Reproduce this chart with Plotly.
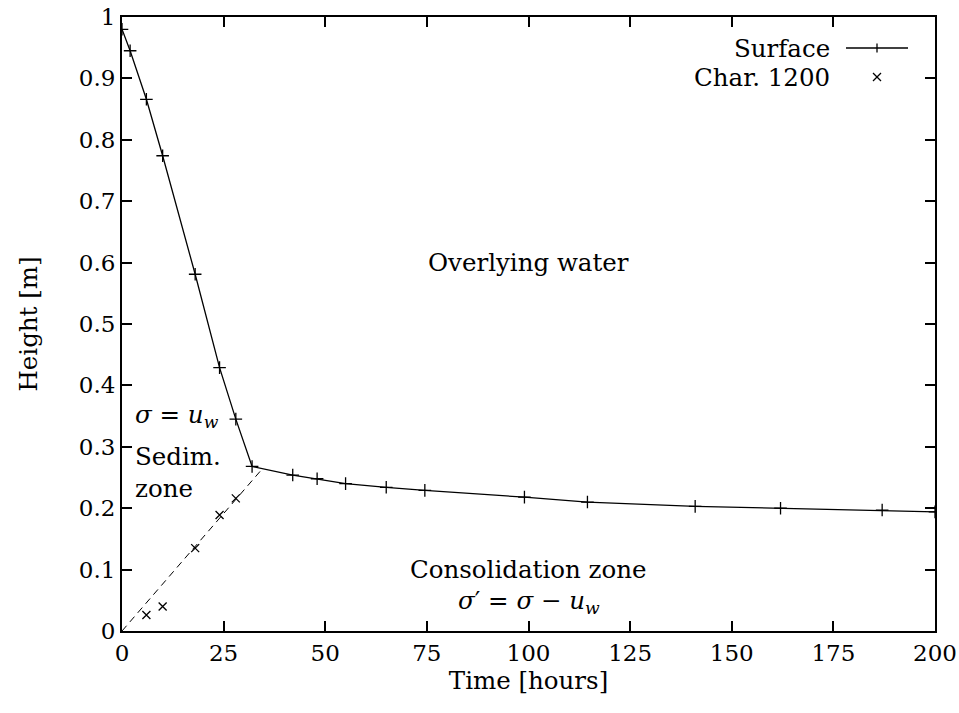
import plotly.graph_objects as go

# ---- data ----
surf_t = [0, 2, 6, 10, 18, 24, 28, 32, 42, 48, 55, 65, 74.5, 99, 114.5, 141, 162, 187, 200]
surf_h = [0.98, 0.945, 0.866, 0.774, 0.581, 0.429, 0.345, 0.268, 0.254, 0.248, 0.240,
          0.234, 0.229, 0.218, 0.210, 0.203, 0.200, 0.197, 0.194]
char_t = [6, 10, 18, 24, 28]
char_h = [0.026, 0.040, 0.135, 0.189, 0.216]
dash_t = [0, 34.5]
dash_h = [0, 0.264]
x_ticks = [0, 25, 50, 75, 100, 125, 150, 175, 200]
y_ticks = [0, 0.1, 0.2, 0.3, 0.4, 0.5, 0.6, 0.7, 0.8, 0.9, 1]
y_tick_text = ["0", "0.1", "0.2", "0.3", "0.4", "0.5", "0.6", "0.7", "0.8", "0.9", "1"]

FONT = "DejaVu Serif"
FS_TICK = 23
FS = 24.5

FW, FH = 959, 713

fig = go.Figure()
fig.add_trace(go.Scatter(x=dash_t, y=dash_h, mode="lines",
                         line=dict(color="black", width=1, dash="7px,5px"),
                         showlegend=False, hoverinfo="skip"))
fig.add_trace(go.Scatter(x=surf_t, y=surf_h, mode="lines+markers", name="Surface",
                         line=dict(color="black", width=1.3),
                         marker=dict(symbol="cross-thin", size=9,
                                     line=dict(color="black", width=1.3)),
                         showlegend=False))
fig.add_trace(go.Scatter(x=char_t, y=char_h, mode="markers", name="Char. 1200",
                         marker=dict(symbol="x-thin", size=8,
                                     line=dict(color="black", width=1.3)),
                         showlegend=False))

# plot-area geometry (page pixels)
L, R, T, B = 122, 935, 17, 631
W, H = R - L, B - T
def px(xp):
    return (xp - L) / W
def py(yp):
    return (B - yp) / H

shapes = []
# legend samples
row1, row2 = py(48), py(77)
shapes.append(dict(type="line", xref="paper", yref="paper", x0=px(846), x1=px(908),
                   y0=row1, y1=row1, line=dict(color="black", width=1.3)))
mx = px(877)
shapes.append(dict(type="line", xref="paper", yref="paper", xsizemode="pixel",
                   ysizemode="pixel", xanchor=mx, yanchor=row1,
                   x0=0, x1=0, y0=-4.5, y1=4.5, line=dict(color="black", width=1.3)))
shapes.append(dict(type="line", xref="paper", yref="paper", xsizemode="pixel",
                   ysizemode="pixel", xanchor=mx, yanchor=row2,
                   x0=-4, x1=4, y0=-4, y1=4, line=dict(color="black", width=1.3)))
shapes.append(dict(type="line", xref="paper", yref="paper", xsizemode="pixel",
                   ysizemode="pixel", xanchor=mx, yanchor=row2,
                   x0=-4, x1=4, y0=4, y1=-4, line=dict(color="black", width=1.3)))

annotations = [
    dict(xref="paper", yref="paper", x=px(832), y=row1, text="Surface",
         xanchor="right", yanchor="middle", showarrow=False),
    dict(xref="paper", yref="paper", x=px(832), y=row2, text="Char. 1200",
         xanchor="right", yanchor="middle", showarrow=False),
    dict(x=100, y=0.6, text="Overlying water", showarrow=False),
    dict(x=2.6, y=0.35, text="<i>σ</i> = <i>u</i><sub><i>w</i></sub>",
         xanchor="left", showarrow=False),
    dict(x=2.6, y=0.258, text="Sedim.<br>zone", xanchor="left", align="left",
         showarrow=False),
    dict(x=100, y=0.1, text="Consolidation zone", showarrow=False),
    dict(x=100, y=0.048, text="<i>σ</i>′ = <i>σ</i> − <i>u</i><sub><i>w</i></sub>",
         showarrow=False),
]

axis_common = dict(showline=True, linecolor="black", linewidth=2, mirror="allticks",
                   ticks="inside", ticklen=10, tickwidth=2, tickcolor="black",
                   showgrid=False, zeroline=False, automargin=False,
                   ticklabeloverflow="allow",
                   tickfont=dict(family=FONT, size=FS_TICK, color="black"))

fig.update_layout(
    width=FW, height=FH,
    margin=dict(l=L, r=FW - R, t=T, b=FH - B),
    paper_bgcolor="white", plot_bgcolor="white",
    font=dict(family=FONT, size=FS, color="black"),
    shapes=shapes, annotations=annotations, showlegend=False,
    xaxis=dict(range=[0, 200], tickvals=x_ticks,
               title=dict(text="Time [hours]", standoff=6,
                          font=dict(family=FONT, size=FS)),
               **axis_common),
    yaxis=dict(range=[0, 1], tickvals=y_ticks, ticktext=y_tick_text,
               title=dict(text="Height [m]", standoff=34,
                          font=dict(family=FONT, size=FS)),
               **axis_common),
)

fig.write_html("out.html",
               config={"displayModeBar": False},
               post_script="document.body.style.margin='0px';"
                           "document.body.style.overflow='hidden';")
